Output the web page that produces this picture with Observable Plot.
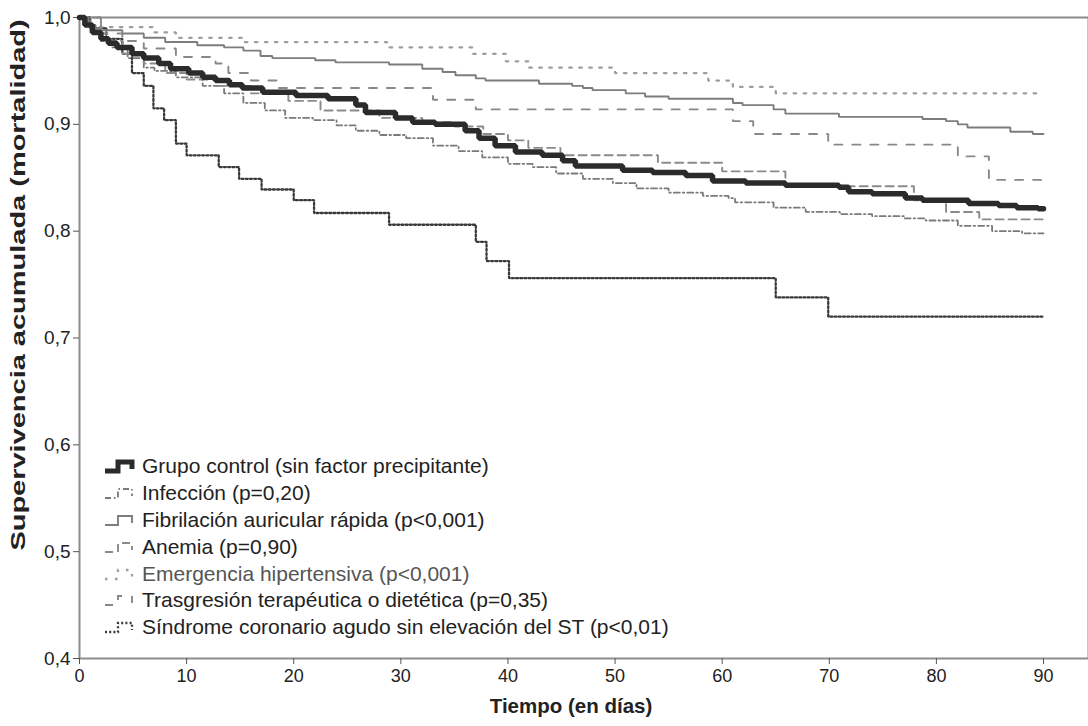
<!DOCTYPE html>
<html><head><meta charset="utf-8">
<script src="https://cdn.jsdelivr.net/npm/d3@7"></script>
<script src="https://cdn.jsdelivr.net/npm/@observablehq/plot@0.6"></script>
<style>
body{margin:0;background:#fff;}
#wrap{position:relative;width:1088px;height:726px;font-family:"Liberation Sans",Arial,sans-serif;}
#legend{position:absolute;left:104px;top:453px;}
.row{display:flex;align-items:center;height:26.8px;font-size:21px;color:#222;white-space:nowrap;}
.row svg{margin-right:7px;flex:none;}
</style></head>
<body><div id="wrap"></div>
<script>
// ---- data ----
const seriesNames = [
  "Grupo control (sin factor precipitante)",
  "Infección (p=0,20)",
  "Fibrilación auricular rápida (p<0,001)",
  "Anemia (p=0,90)",
  "Emergencia hipertensiva (p<0,001)",
  "Trasgresión terapéutica o dietética (p=0,35)",
  "Síndrome coronario agudo sin elevación del ST (p<0,01)"
];
const xTicks = [0,10,20,30,40,50,60,70,80,90];
const yTicks = [0.4,0.5,0.6,0.7,0.8,0.9,1.0];
const endDay = 90;

const controlT = [0,0.5,1.2,2,2.7,3.5,4.9,6,7.4,8.5,10.2,11.5,12.7,14,15.2,17.1,20.2,23.2,25.8,26.7,29.5,31.1,33.2,36,37.3,38.8,40.7,43.2,45.1,46.3,50.7,53.5,56.6,59.1,62.2,65.9,70.9,71.8,74,77.1,78.7,83,85.8,87.5,89.5];
const controlS = [1,0.993,0.986,0.98,0.976,0.972,0.966,0.962,0.957,0.952,0.948,0.944,0.941,0.937,0.934,0.930,0.927,0.924,0.918,0.911,0.906,0.902,0.900,0.894,0.887,0.880,0.874,0.871,0.866,0.861,0.857,0.855,0.852,0.847,0.845,0.843,0.841,0.837,0.835,0.831,0.829,0.826,0.824,0.822,0.821];

const infeccionT = [0,1,2,3,4.5,6,7,9,11.5,13.5,15.3,17.3,19.2,21.8,24,25.8,28,30.5,33,35.4,37.6,40,42.3,44.5,47,49.8,52,55,58.2,60.6,61.2,64.8,67.8,71,74,77,79,82,85.2,88];
const infeccionS = [1,0.99,0.98,0.972,0.962,0.953,0.95,0.944,0.936,0.929,0.92,0.913,0.906,0.904,0.899,0.894,0.89,0.887,0.88,0.875,0.869,0.863,0.86,0.854,0.849,0.845,0.84,0.836,0.833,0.831,0.827,0.822,0.818,0.816,0.814,0.812,0.81,0.805,0.8,0.798];

const fibrilacionT = [0,0.8,1.5,4,6,8,11,13.5,15.3,16.9,18,22,23.9,28.9,32,33.9,35.1,37,37.9,42.9,46,47,47.9,51,52.8,55,61,61.9,64.8,65.9,70.9,78.7,80.9,82,82.9,86.9,89];
const fibrilacionS = [1,0.993,0.988,0.985,0.981,0.977,0.974,0.972,0.969,0.964,0.962,0.96,0.958,0.956,0.952,0.949,0.946,0.943,0.941,0.938,0.936,0.934,0.932,0.929,0.926,0.924,0.92,0.918,0.914,0.91,0.907,0.905,0.903,0.9,0.897,0.893,0.891];

const anemiaT = [0,2,4,6,8,10,13,16,19.5,22.5,28,32,35,37.7,40,41.9,44.9,54,60,65.9,77.9,80.9,84];
const anemiaS = [1,0.978,0.966,0.957,0.948,0.942,0.936,0.929,0.922,0.913,0.906,0.902,0.898,0.891,0.885,0.878,0.871,0.864,0.856,0.842,0.829,0.818,0.811];

const emergenciaT = [0,0.5,7,9,15.2,28.7,36.7,39.8,41.9,50,58.7,61,65];
const emergenciaS = [1,0.991,0.986,0.981,0.977,0.972,0.966,0.959,0.953,0.948,0.941,0.935,0.929];

const trasgresionT = [0,2,4,6,9,12.7,13.9,16,18.5,33,37,61,62.9,69.9,82,84.9];
const trasgresionS = [1,0.985,0.978,0.971,0.963,0.957,0.948,0.941,0.934,0.923,0.914,0.903,0.891,0.881,0.870,0.848];

const scaT = [0,1,2.5,4,4.9,6,6.9,7.9,9,10,13,14.9,17,20,21.9,28.9,37,38,40.1,65,69.9];
const scaS = [1,0.99,0.98,0.966,0.948,0.936,0.915,0.904,0.882,0.871,0.860,0.849,0.839,0.829,0.817,0.806,0.790,0.772,0.756,0.738,0.720];

// ---- build ----
const seriesData = [
  [controlT, controlS], [infeccionT, infeccionS], [fibrilacionT, fibrilacionS],
  [anemiaT, anemiaS], [emergenciaT, emergenciaS], [trasgresionT, trasgresionS], [scaT, scaS]
];
const styles = [
  {stroke:"#2b2b2b", strokeWidth:5.5},
  {stroke:"#7a7a7a", strokeWidth:1.8, strokeDasharray:"6,3,1.5,3"},
  {stroke:"#7d7d7d", strokeWidth:1.9},
  {stroke:"#8a8a8a", strokeWidth:1.9, strokeDasharray:"8,5"},
  {stroke:"#9d9d9d", strokeWidth:2.3, strokeDasharray:"2.5,7.5"},
  {stroke:"#888888", strokeWidth:1.9, strokeDasharray:"8,10"},
  {stroke:"#3a3a3a", strokeWidth:2.3, strokeDasharray:"2,2.2"}
];
const rowsFor = (i) => {
  const [T, S] = seriesData[i];
  const rows = T.map((t, k) => ({t, s: S[k], name: seriesNames[i]}));
  rows.push({t: endDay, s: S[S.length - 1], name: seriesNames[i]});
  return rows;
};
const drawOrder = [6,4,2,5,1,3,0];
const lineMarks = drawOrder.map(i => Plot.line(rowsFor(i), {x:"t", y:"s", curve:"step-after", ...styles[i], strokeLinejoin:"miter"}));

const yTitle = "Supervivencia acumulada (mortalidad)";
const comma = d => d.toFixed(1).replace(".", ",");
const chart = Plot.plot({
  width:1088, height:726,
  marginLeft:79, marginTop:17, marginRight:0, marginBottom:68,
  style:{fontFamily:"'Liberation Sans', Arial, sans-serif", fontSize:"16px", color:"#222", background:"#fff"},
  x:{domain:[0,94.2]},
  y:{domain:[0.4,1.0]},
  marks:[
    Plot.frame({stroke:"#8c8c8c", strokeWidth:2}),
    Plot.axisX({ticks:xTicks, tickSize:6, tickPadding:5, label:null, tickFormat:d=>String(d), stroke:"#555", fontSize:18}),
    Plot.axisY({ticks:yTicks, tickSize:6, tickPadding:3, label:null, tickFormat:comma, stroke:"#555", fontSize:19}),
    ...lineMarks,
    Plot.text(["Tiempo (en días)"], {frameAnchor:"bottom", dy:54, dx:-13, fontWeight:"bold", fontSize:20.5, fill:"#222"}),
    Plot.text([yTitle], {frameAnchor:"left", dx:-61, dy:-53, rotate:-90, textAnchor:"middle", fontWeight:"bold", fontSize:21, fill:"#222"})
  ]
});
const wrap = document.getElementById("wrap");
wrap.appendChild(chart);
// stretch the rotated title along its length, as in the reference
chart.querySelectorAll("text").forEach(t => {
  if (t.textContent === yTitle) {
    const tr = t.getAttribute("transform") || "";
    t.setAttribute("transform", tr + " scale(1.38,1)");
  }
});

// legend overlay
const legend = document.createElement("div");
legend.id = "legend";
seriesNames.forEach((name, i) => {
  const st = styles[i];
  const row = document.createElement("div");
  row.className = "row";
  const ns = "http://www.w3.org/2000/svg";
  const svg = document.createElementNS(ns, "svg");
  svg.setAttribute("width", 31); svg.setAttribute("height", 18);
  const p = document.createElementNS(ns, "path");
  p.setAttribute("d", "M1,14 H14 V5 H28 V12");
  p.setAttribute("fill", "none");
  p.setAttribute("stroke", st.stroke);
  p.setAttribute("stroke-width", Math.min(st.strokeWidth, 5));
  if (st.strokeDasharray) p.setAttribute("stroke-dasharray", st.strokeDasharray);
  svg.appendChild(p);
  const span = document.createElement("span");
  span.textContent = name;
  if (i === 4) span.style.color = "#555";
  row.appendChild(svg); row.appendChild(span);
  legend.appendChild(row);
});
wrap.appendChild(legend);
</script></body></html>
